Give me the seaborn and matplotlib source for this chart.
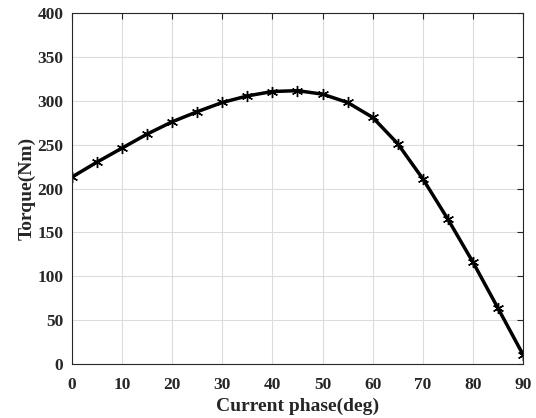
import seaborn as sns
import matplotlib.pyplot as plt
import pandas as pd

# Torque vs current phase angle
phase = [0, 5, 10, 15, 20, 25, 30, 35, 40, 45, 50, 55, 60, 65, 70, 75, 80, 85, 90]
torque = [213, 230, 246, 262, 276, 287.5, 298, 305.5, 310.5, 311.5, 307.5, 298, 281, 251, 211, 165, 116, 63.5, 10.5]

sns.set_theme(style = "whitegrid")
plt.rcParams["font.family"] = ["Liberation Serif", "DejaVu Serif"]
plt.rcParams["font.weight"] = "bold"

df = pd.DataFrame({"phase": phase, "torque": torque})

f = plt.figure(figsize = (5.36, 4.18), dpi = 100)
ax = f.add_axes([0.134, 0.129, 0.842, 0.840])

# MATLAB-style asterisk marker
sns.lineplot(x = "phase", y = "torque", data = df, ax = ax,
             color = "black", linewidth = 2.5, marker = (6, 2, 0),
             markersize = 8, markeredgewidth = 1.0,
             markeredgecolor = "black", markerfacecolor = "black")

ax.set(xlim = (0, 90), ylim = (0, 400))
ax.set_xticks(range(0, 91, 10))
ax.set_yticks(range(0, 401, 50))
ax.set_xlabel("Current phase(deg)", fontsize = 14, fontweight = "bold", labelpad = 4)
ax.set_ylabel("Torque(Nm)", fontsize = 14, fontweight = "bold", labelpad = 1)
ax.tick_params(direction = "in", length = 4, width = 0.8, color = "#262626",
               labelsize = 12.5, top = True, right = True,
               labelcolor = "#262626")
ax.tick_params(axis = "x", pad = 9)
ax.tick_params(axis = "y", pad = 6)
for lab in ax.get_xticklabels() + ax.get_yticklabels():
    lab.set_fontweight("bold")
ax.grid(True, color = "#dcdcdc", linewidth = 0.8)
ax.set_facecolor("white")
for s in ax.spines.values():
    s.set_color("#262626")
    s.set_linewidth(0.8)
    s.set_visible(True)

f.savefig("out.png", dpi = 100, facecolor = "white")
